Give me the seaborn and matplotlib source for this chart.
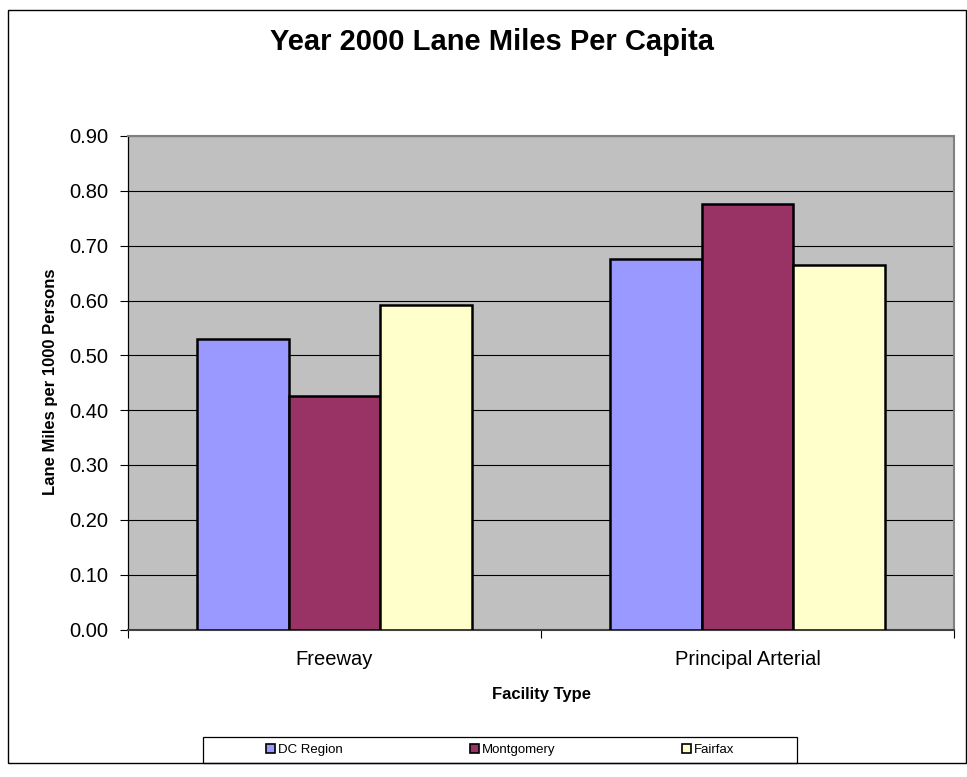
import matplotlib
matplotlib.use("Agg")
import matplotlib.pyplot as plt
from matplotlib.patches import Rectangle, Patch
import pandas as pd
import seaborn as sns

# Data
facility_types = ["Freeway", "Principal Arterial"]
regions = ["DC Region", "Montgomery", "Fairfax"]
dc_region = [0.529, 0.676]
montgomery = [0.425, 0.776]
fairfax = [0.591, 0.665]
y_ticks = [0.0, 0.1, 0.2, 0.3, 0.4, 0.5, 0.6, 0.7, 0.8, 0.9]
colors = ["#9999FF", "#993366", "#FFFFCC"]

rows = []
for name, vals in zip(regions, [dc_region, montgomery, fairfax]):
    for ft, v in zip(facility_types, vals):
        rows.append({"Facility Type": ft, "Region": name, "Value": v})
df = pd.DataFrame(rows)

plt.rcParams["font.family"] = ["Liberation Sans", "DejaVu Sans"]

W, H = 967, 777
fig = plt.figure(figsize=(W / 100, H / 100), dpi=100)
fig.patch.set_facecolor("white")

def fx(px):
    return px / W

def fy(py):
    return 1 - py / H

ax = fig.add_axes([fx(128), fy(629.5), fx(954) - fx(128), fy(136) - fy(629.5)])
ax.set_facecolor("#C0C0C0")

sns.barplot(
    data=df, x="Facility Type", y="Value", hue="Region",
    order=facility_types, hue_order=regions, palette=colors,
    width=0.668, gap=0, saturation=1, edgecolor="black", linewidth=1.8,
    legend=False, ax=ax, zorder=3,
)

ax.set_xlim(-0.5, 1.5)
ax.set_ylim(0, 0.9)
ax.set_yticks(y_ticks)
ax.set_yticklabels([f"{v:.2f}" for v in y_ticks])
ax.yaxis.grid(True, color="black", linewidth=0.8, zorder=1)
ax.set_axisbelow(True)

# category labels centred, tick marks on the category boundaries
ax.set_xticks([0, 1])
ax.set_xticklabels(facility_types)
ax.set_xticks([-0.5, 0.5, 1.5], minor=True)
ax.tick_params(axis="x", which="major", length=0, pad=15, labelsize=14.5)
ax.tick_params(axis="x", which="minor", length=6, width=0.8, direction="out", color="black")
ax.tick_params(axis="y", length=6, width=0.8, direction="out", pad=8, labelsize=14.5, color="black")

for side in ["top", "right"]:
    ax.spines[side].set_color("#808080")
    ax.spines[side].set_linewidth(1.5)
ax.spines["left"].set_color("black")
ax.spines["left"].set_linewidth(0.9)
ax.spines["bottom"].set_color("#404040")
ax.spines["bottom"].set_linewidth(1.5)

ax.set_xlabel("")
ax.set_ylabel("")
fig.text(fx(541), fy(694), "Facility Type", ha="center", va="center",
         fontsize=12, fontweight="bold")
fig.text(fx(51), fy(382), "Lane Miles per 1000 Persons", ha="center", va="center",
         rotation=90, fontsize=12, fontweight="bold")
fig.text(fx(492), fy(42), "Year 2000 Lane Miles Per Capita", ha="center", va="center",
         fontsize=21, fontweight="bold")

# outer chart border
fig.patches.append(Rectangle((fx(8), fy(763)), fx(966) - fx(8), fy(10) - fy(763),
                             transform=fig.transFigure, fill=False,
                             edgecolor="black", linewidth=1.0))
# legend box
fig.patches.append(Rectangle((fx(203), fy(763)), fx(797) - fx(203), fy(737) - fy(763),
                             transform=fig.transFigure, fill=False,
                             edgecolor="black", linewidth=0.9))

handles = [Patch(facecolor=c, edgecolor="black", linewidth=1.2) for c in colors]
fig.legend(handles, regions, loc="center", bbox_to_anchor=(fx(500), fy(750)),
           ncol=3, frameon=False, fontsize=9.5, handlelength=0.7, handleheight=0.7,
           handletextpad=0.2, columnspacing=9.6, borderpad=0)

fig.savefig("out.png", dpi=100)
